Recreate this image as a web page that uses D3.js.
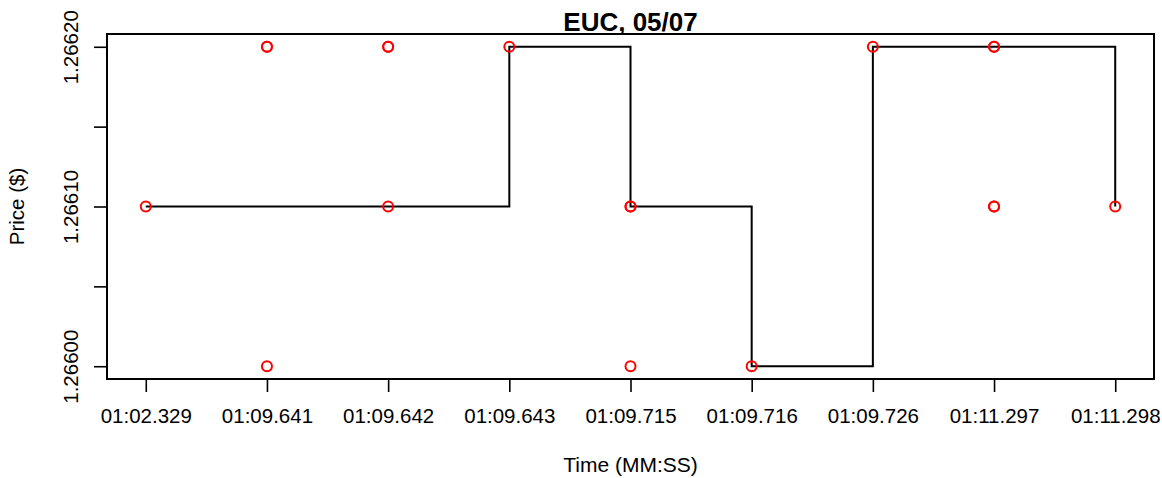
<!DOCTYPE html>
<html>
<head>
<meta charset="utf-8">
<script src="https://cdn.jsdelivr.net/npm/d3@7"></script>
<style>
  body { margin: 0; background: #fff; }
  svg text { font-family: "Liberation Sans", Arial, sans-serif; fill: #000; }
</style>
</head>
<body>
<div id="chart"></div>
<script>
// time stamps on the x axis (one slot each)
const times = ["01:02.329", "01:09.641", "01:09.642", "01:09.643", "01:09.715",
    "01:09.716", "01:09.726", "01:11.297", "01:11.298"]

// step line, one price per time stamp
const stepPrice = [1.2661, 1.2661, 1.2661, 1.2662, 1.2661, 1.2660, 1.2662, 1.2662, 1.2661]

// individual trades (red circles)
const tradeTime = ["01:02.329",
    "01:09.641", "01:09.641", "01:09.641",
    "01:09.642", "01:09.642", "01:09.642",
    "01:09.643",
    "01:09.715", "01:09.715", "01:09.715",
    "01:09.716",
    "01:09.726",
    "01:11.297", "01:11.297", "01:11.297", "01:11.297",
    "01:11.298"]
const tradePrice = [1.2661,
    1.2662, 1.2662, 1.2660,
    1.2662, 1.2662, 1.2661,
    1.2662,
    1.2661, 1.2661, 1.2660,
    1.2660,
    1.2662,
    1.2662, 1.2662, 1.2661, 1.2661,
    1.2661]

const yTicks = [1.2660, 1.26605, 1.2661, 1.26615, 1.2662]
const yLabels = ["1.26600", "", "1.26610", "", "1.26620"]

const width = 1162, height = 478
const box = {left: 107, right: 1154, top: 34, bottom: 379}

const svg = d3.select('#chart').append('svg')
    .attr('width', width)
    .attr('height', height)

const xScale = d3.scalePoint()
    .domain(times)
    .range([box.left, box.right])
    .padding(0.32)

const pad = (1.2662 - 1.2660) * 0.04
const yScale = d3.scaleLinear()
    .domain([1.2660 - pad, 1.2662 + pad])
    .range([box.bottom, box.top])

// step line
const line = d3.line()
    .x((d, i) => xScale(times[i]))
    .y(d => yScale(d))
    .curve(d3.curveStepAfter)

svg.append('path')
    .datum(stepPrice)
    .attr('d', line)
    .attr('fill', 'none')
    .attr('stroke', 'black')
    .attr('stroke-width', 2)

// trades
svg.selectAll('.trade')
    .data(tradePrice)
    .enter().append('circle')
    .attr('class', 'trade')
    .attr('cx', (d, i) => xScale(tradeTime[i]))
    .attr('cy', d => yScale(d))
    .attr('r', 5)
    .attr('fill', 'none')
    .attr('stroke', 'red')
    .attr('stroke-width', 2)

// plot box
svg.append('rect')
    .attr('x', box.left)
    .attr('y', box.top)
    .attr('width', box.right - box.left)
    .attr('height', box.bottom - box.top)
    .attr('fill', 'none')
    .attr('stroke', 'black')
    .attr('stroke-width', 2)

// x axis
const xAxis = svg.append('g')
    .attr('transform', `translate(0, ${box.bottom})`)
    .call(d3.axisBottom(xScale).tickSize(13).tickPadding(16).tickSizeOuter(0))
xAxis.select('.domain').remove()
xAxis.selectAll('line').attr('stroke-width', 1.6)
xAxis.selectAll('text')
    .style('font-size', '20.5px')
    .attr('fill', 'black')

// y axis
const yAxis = svg.append('g')
    .attr('transform', `translate(${box.left}, 0)`)
    .call(d3.axisLeft(yScale).tickValues(yTicks)
        .tickFormat((d, i) => yLabels[i]).tickSize(13).tickSizeOuter(0))
yAxis.select('.domain').remove()
yAxis.selectAll('line').attr('stroke-width', 1.6)
yAxis.selectAll('text')
    .style('font-size', '20.5px')
    .attr('fill', 'black')
    .attr('x', null).attr('dy', null)
    .attr('text-anchor', 'middle')
    .attr('transform', 'translate(-29, 0) rotate(-90)')

// title and axis titles
svg.append('text')
    .text('EUC, 05/07')
    .attr('x', (box.left + box.right) / 2)
    .attr('y', 31)
    .attr('text-anchor', 'middle')
    .style('font-size', '26px')
    .style('font-weight', 'bold')

svg.append('text')
    .text('Time (MM:SS)')
    .attr('x', (box.left + box.right) / 2)
    .attr('y', 472)
    .attr('text-anchor', 'middle')
    .style('font-size', '21px')

svg.append('text')
    .text('Price ($)')
    .attr('transform', `translate(24, ${(box.top + box.bottom) / 2}) rotate(-90)`)
    .attr('text-anchor', 'middle')
    .style('font-size', '20.5px')
</script>
</body>
</html>
